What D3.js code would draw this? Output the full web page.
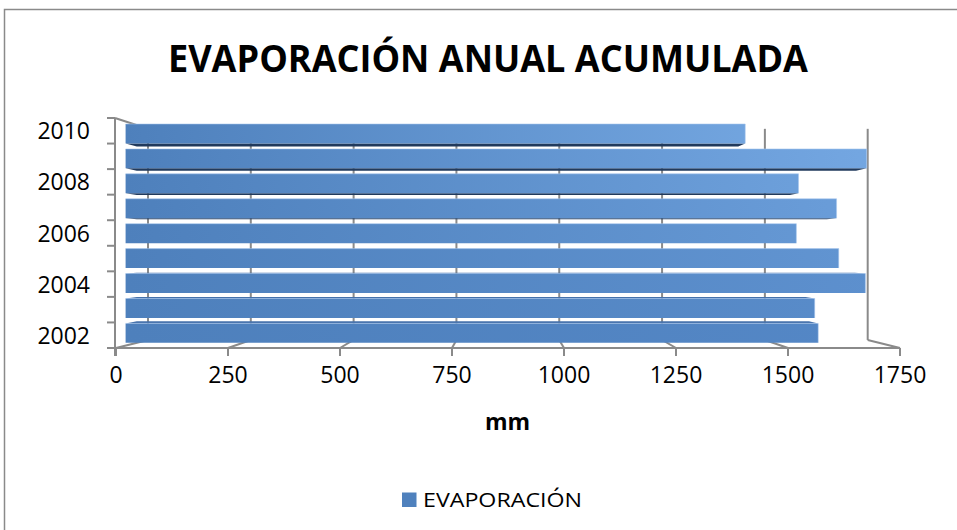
<!DOCTYPE html>
<html>
<head>
<meta charset="utf-8">
<script src="https://cdn.jsdelivr.net/npm/d3@7"></script>
<style>
  html, body { margin: 0; padding: 0; background: #fff; }
  svg { display: block; }
  text { font-family: "Open Sans", "Liberation Sans", sans-serif; fill: #000; }
</style>
</head>
<body>
<svg id="chart" width="957" height="530"></svg>
<script>
// Annual accumulated evaporation (mm), 2002–2010
const years = [2002, 2003, 2004, 2005, 2006, 2007, 2008, 2009, 2010];
const evaporation = [1585, 1577, 1693, 1632, 1535, 1627, 1540, 1696, 1418];
const valueTicks = [0, 250, 500, 750, 1000, 1250, 1500, 1750];
const yearLabels = [2002, 2004, 2006, 2008, 2010];
const titleText = "EVAPORACIÓN ANUAL ACUMULADA";
const axisTitle = "mm";
const seriesName = "EVAPORACIÓN";

const W = 957, H = 530;
const svg = d3.select("#chart");

// Front plane of the 3-D box
const x = d3.scaleLinear().domain([0, 1750]).range([116, 900]);
const y = d3.scaleBand().domain(years.slice().reverse()).range([118, 348])
  .paddingInner(0.22).paddingOuter(0.11);
const yStep = y.step();
const yTop = 118, yBottom = 348;

// Simple perspective: points recede toward a vanishing point with depth t (0 = front, 1 = back wall)
const VX = 506, VY = 250, SHRINK = 0.082;
const s = t => 1 - SHRINK * t;
const proj = (px, py, t) => [VX + s(t) * (px - VX), VY + s(t) * (py - VY)];
const line = d3.line();
const poly = pts => line(pts) + "Z";

const grid = "#8a8a8a";

// Outer chart frame
svg.append("rect").attr("x", 4.5).attr("y", 9.5).attr("width", 1000).attr("height", 600)
  .attr("fill", "#fff").attr("stroke", grid).attr("stroke-width", 1.5);

// Title
svg.append("text").attr("x", 488).attr("y", 71.5).attr("text-anchor", "middle")
  .attr("font-size", 37).attr("font-weight", 700)
  .attr("textLength", 640).attr("lengthAdjust", "spacingAndGlyphs")
  .text(titleText);

const g = svg.append("g");

// Back-wall gridlines
g.selectAll(".vgrid").data(valueTicks).join("path").attr("class", "vgrid")
  .attr("d", v => line([proj(x(v), yTop, 1), proj(x(v), yBottom, 1)]))
  .attr("stroke", grid).attr("stroke-width", 2).attr("fill", "none");

// Floor gridlines
g.selectAll(".fgrid").data(valueTicks).join("path").attr("class", "fgrid")
  .attr("d", v => line([proj(x(v), yBottom, 0), proj(x(v), yBottom, 1)]))
  .attr("stroke", grid).attr("stroke-width", 2).attr("fill", "none");

// Side-wall top edge
g.append("path").attr("d", line([proj(x(0) - 1, yTop, 0), proj(x(0), yTop, 1)]))
  .attr("stroke", grid).attr("stroke-width", 2).attr("fill", "none");

// Bar gradients: lighter toward the right, more so for upper rows
const defs = svg.append("defs");
const leftColor = "#4e80bc";
const rightLow = "#5487c6", rightHigh = "#79ace6";
years.forEach((yr, i) => {
  const f = i / (years.length - 1);
  const gr = defs.append("linearGradient").attr("id", "bar" + yr)
    .attr("gradientUnits", "userSpaceOnUse")
    .attr("x1", 126).attr("y1", 0).attr("x2", 880).attr("y2", 0);
  gr.append("stop").attr("offset", 0).attr("stop-color", leftColor);
  gr.append("stop").attr("offset", 1).attr("stop-color", d3.interpolateRgb(rightLow, rightHigh)(f));
});

// Bars as boxes between depths T0 and T1
const T0 = 0.3, T1 = 0.65;
const data = years.map((yr, i) => ({ year: yr, value: evaporation[i] }));
const bars = g.selectAll(".bar").data(data).join("g").attr("class", "bar");

bars.each(function (d) {
  const b = d3.select(this);
  const y0 = y(d.year), y1 = y(d.year) + y.bandwidth();
  const xa = x(0), xb = x(d.value);
  if (y1 < VY) {
    // underside visible for rows above eye level
    b.append("path")
      .attr("d", poly([proj(xa, y1, T0), proj(xb, y1, T0), proj(xb, y1, T1), proj(xa, y1, T1)]))
      .attr("fill", "#213a5c");
  }
  if (y0 > VY) {
    // top face visible for rows below eye level
    b.append("path")
      .attr("d", poly([proj(xa, y0, T0), proj(xb, y0, T0), proj(xb, y0, T1), proj(xa, y0, T1)]))
      .attr("fill", "#4470aa");
  }
  b.append("path")
    .attr("d", poly([proj(xa, y0, T0), proj(xb, y0, T0), proj(xb, y1, T0), proj(xa, y1, T0)]))
    .attr("fill", `url(#bar${d.year})`);
  // light bevel on top and right edges
  b.append("path")
    .attr("d", line([proj(xa, y0, T0), proj(xb, y0, T0), proj(xb, y1, T0)]))
    .attr("fill", "none").attr("stroke", "#a9c8ef").attr("stroke-opacity", 0.55).attr("stroke-width", 1);
});

// Category axis (front-left edge) with ticks at band boundaries
g.append("path").attr("d", line([[115, yTop], [115, yBottom + 8]]))
  .attr("stroke", grid).attr("stroke-width", 2).attr("fill", "none");
const boundaries = d3.range(years.length + 1).map(k => yTop + k * yStep);
g.selectAll(".ytick").data(boundaries).join("path").attr("class", "ytick")
  .attr("d", v => line([[107, v], [115, v]]))
  .attr("stroke", grid).attr("stroke-width", 2);

// Value axis along the front floor edge
g.append("path").attr("d", line([[115, yBottom], [x(1750), yBottom]]))
  .attr("stroke", grid).attr("stroke-width", 2).attr("fill", "none");
g.selectAll(".xtick").data(valueTicks).join("path").attr("class", "xtick")
  .attr("d", v => line([[x(v), yBottom], [x(v), yBottom + 8]]))
  .attr("stroke", grid).attr("stroke-width", 2);

// Tick labels
svg.selectAll(".xlab").data(valueTicks).join("text").attr("class", "xlab")
  .attr("x", v => x(v)).attr("y", 382.5).attr("text-anchor", "middle")
  .attr("font-size", 23).text(v => v);

svg.selectAll(".ylab").data(yearLabels).join("text").attr("class", "ylab")
  .attr("x", 90).attr("y", yr => y(yr) + y.bandwidth() / 2 + 8.5).attr("text-anchor", "end")
  .attr("font-size", 23).text(yr => yr);

// Axis title
svg.append("text").attr("x", 507.5).attr("y", 430).attr("text-anchor", "middle")
  .attr("font-size", 23).attr("font-weight", 700).text(axisTitle);

// Legend
svg.append("rect").attr("x", 402).attr("y", 492.5).attr("width", 14.5).attr("height", 14.5)
  .attr("fill", "#4f81bd");
svg.append("text").attr("x", 423).attr("y", 506.5).attr("font-size", 20)
  .attr("textLength", 159).attr("lengthAdjust", "spacingAndGlyphs").text(seriesName);
</script>
</body>
</html>
